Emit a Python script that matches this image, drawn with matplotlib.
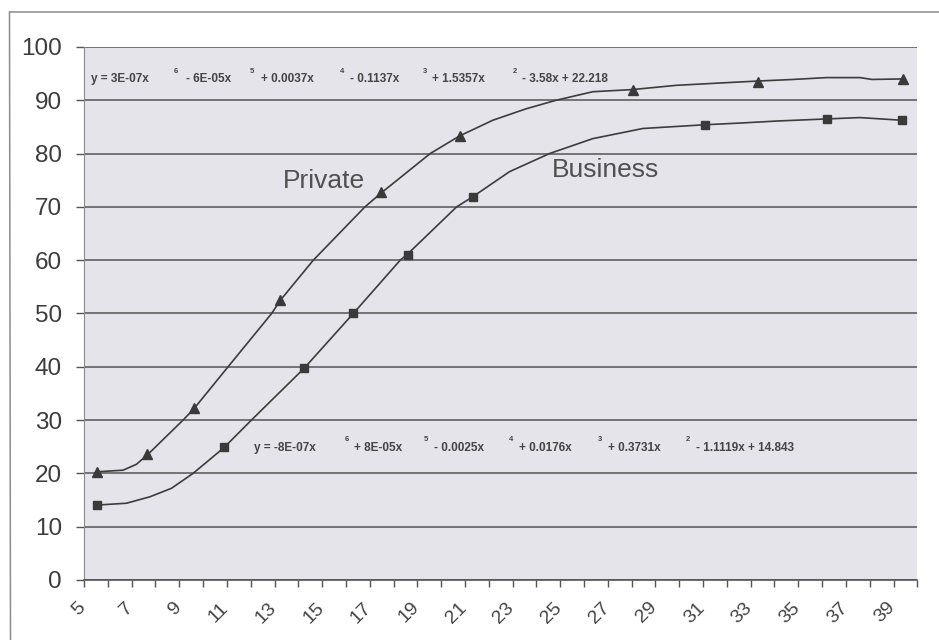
import matplotlib
matplotlib.use("Agg")
import matplotlib.pyplot as plt
from matplotlib.lines import Line2D
from matplotlib.transforms import ScaledTranslation

plt.rcParams['font.family'] = ['Liberation Sans', 'DejaVu Sans']

# curves (x in axis-label units, y in %)
private_x = [6.05, 7.14, 7.7, 8.19, 9.66, 10.13, 11.55, 13.38, 13.75, 15.13, 17.3, 17.98,
             20.04, 21.27, 22.67, 24.07, 25.33, 26.87, 28.53, 30.38, 32.48, 33.79, 35.28,
             36.69, 38.09, 38.6, 39.89]
private_y = [20.3, 20.6, 21.7, 23.6, 30.0, 32.2, 40.0, 50.0, 52.5, 60.0, 70.0, 72.6,
             80.0, 83.3, 86.25, 88.4, 90.0, 91.6, 92.0, 92.8, 93.3, 93.6, 93.9,
             94.25, 94.25, 93.9, 94.0]
business_x = [6.05, 7.28, 8.26, 9.17, 10.08, 11.37, 12.53, 14.74, 16.81, 18.78, 19.08, 21.15,
              21.83, 23.37, 25.05, 26.87, 28.97, 31.57, 33.18, 34.59, 36.73, 38.09, 39.84]
business_y = [14.06, 14.4, 15.6, 17.2, 20.0, 24.8, 30.0, 39.7, 50.0, 60.0, 61.1, 70.0,
              71.9, 76.6, 80.0, 82.8, 84.7, 85.4, 85.75, 86.1, 86.5, 86.75, 86.25]

# marker points
private_mx = [6.03, 8.15, 10.1, 13.75, 17.98, 21.28, 28.55, 33.8, 39.9]
private_my = [20.3, 23.6, 32.2, 52.5, 72.7, 83.3, 92.0, 93.5, 94.0]
business_mx = [6.03, 11.36, 14.73, 16.8, 19.09, 21.83, 31.57, 36.72, 39.84]
business_my = [14.0, 24.9, 39.8, 50.0, 61.0, 71.9, 85.4, 86.5, 86.3]

x_labels = list(range(5, 40, 2))
y_ticks = list(range(0, 101, 10))

# trendline equations, pieces as Excel lays them out (text, x, superscript?)
private_eq = [("y = 3E-07x", 5.79, False), ("6", 9.28, True), ("- 6E-05x", 9.78, False),
              ("5", 12.44, True), ("+ 0.0037x", 12.93, False), ("4", 16.24, True),
              ("- 0.1137x", 16.69, False), ("3", 19.71, True), ("+ 1.5357x", 20.13, False),
              ("2", 23.52, True), ("- 3.58x + 22.218", 23.9, False)]
business_eq = [("y = -8E-07x", 12.65, False), ("6", 16.45, True), ("+ 8E-05x", 16.85, False),
               ("5", 19.76, True), ("- 0.0025x", 20.22, False), ("4", 23.35, True),
               ("+ 0.0176x", 23.79, False), ("3", 27.1, True), ("+ 0.3731x", 27.5, False),
               ("2", 30.77, True), ("- 1.1119x + 14.843", 31.22, False)]

fig = plt.figure(figsize=(9.39, 6.4), dpi=100)
fig.patch.set_facecolor('white')
ax = fig.add_axes([0.0895, 0.09375, 0.8874, 0.8329])
ax.set_facecolor('#e4e4ea')

ax.plot(private_x, private_y, color='#3c3c3c', lw=1.2, zorder=3)
ax.plot(business_x, business_y, color='#3c3c3c', lw=1.2, zorder=3)
ax.plot(private_mx, private_my, ls='none', marker='^', ms=7.5, color='#3a3a3a', zorder=4)
ax.plot(business_mx, business_my, ls='none', marker='s', ms=5.5, color='#3a3a3a', zorder=4)

ax.set_xlim(5.5, 40.5)
ax.set_ylim(0, 100)
ax.set_yticks(y_ticks)
ax.set_yticklabels([str(t) for t in y_ticks])
ax.tick_params(axis='y', length=5.8, width=1, color='#555555', pad=10,
               labelsize=17.5, labelcolor='#3c3c3c')
ax.yaxis.grid(True, color='#555555', lw=1.1, zorder=1)
ax.set_axisbelow(True)

# category ticks between labels, labels drawn as text
ax.set_xticks([v + 0.5 for v in range(5, 41)])
ax.set_xticklabels([])
ax.tick_params(axis='x', length=5, width=1, color='#555555')
off = ScaledTranslation(0.05, -0.19, fig.dpi_scale_trans)
for lab in x_labels:
    ax.text(lab, 0, str(lab), transform=ax.get_xaxis_transform() + off,
            rotation=45, ha='right', va='top', rotation_mode='anchor',
            fontsize=14, color='#444444', clip_on=False)

for s in ['top', 'right']:
    ax.spines[s].set_visible(False)
ax.spines['left'].set_color('#8a8a8a')
ax.spines['left'].set_linewidth(0.8)
ax.spines['bottom'].set_color('#555555')
ax.spines['bottom'].set_linewidth(1.2)

# series names
ax.text(15.59, 74.8, "Private", ha='center', va='center', fontsize=19, color='#505050')
ax.text(27.41, 76.9, "Business", ha='center', va='center', fontsize=19, color='#505050')

for eq, yc, ys in [(private_eq, 93.9, 95.3), (business_eq, 24.8, 26.4)]:
    for txt, xpos, sup in eq:
        if sup:
            ax.text(xpos, ys, txt, ha='left', va='center', fontsize=5.5,
                    fontweight='bold', color='#444444')
        else:
            ax.text(xpos, yc, txt, ha='left', va='center', fontsize=8.5,
                    fontweight='bold', color='#444444')

# outer chart frame (cropped by the scan)
fig.add_artist(Line2D([9.5 / 939, 1.0], [1 - 12 / 640, 1 - 12 / 640],
                      transform=fig.transFigure, color='#8c8c8c', lw=1.1))
fig.add_artist(Line2D([9.5 / 939, 10.5 / 939], [1 - 12 / 640, 0.0],
                      transform=fig.transFigure, color='#8c8c8c', lw=1.1))

fig.savefig('out.png', dpi=100, facecolor=fig.get_facecolor())
